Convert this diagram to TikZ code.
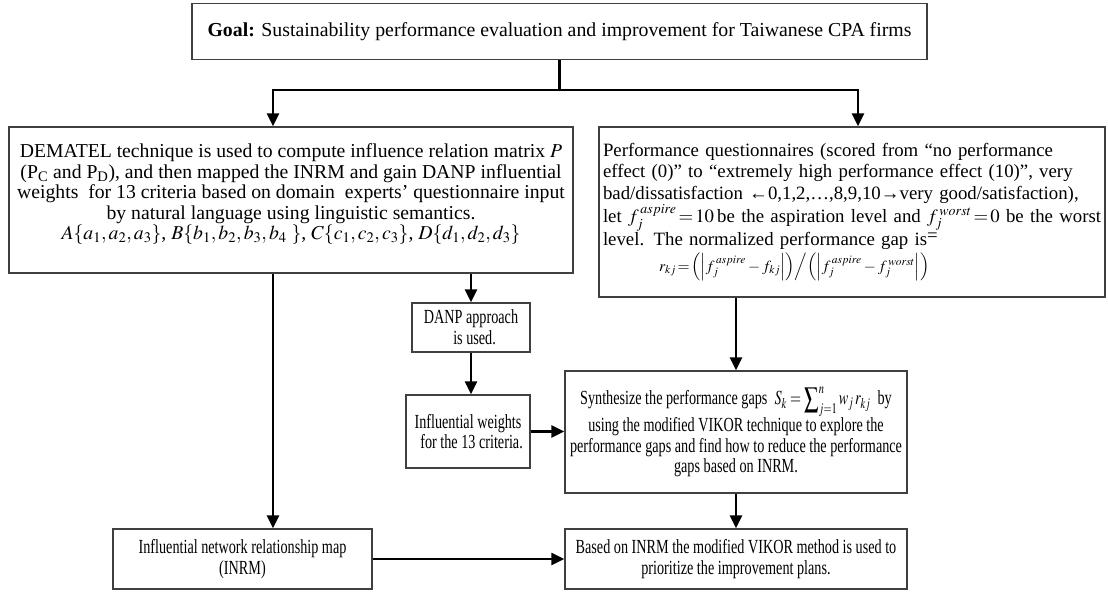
\documentclass[tikz,border=0pt]{standalone}
\usepackage{mathptmx}
\usepackage{fontspec}
\setmainfont{Liberation Serif}
\newfontfamily\condfont[FakeStretch=0.71]{Liberation Serif}
\usetikzlibrary{arrows.meta}
\newcommand{\cmath}[1]{\scalebox{0.71}[1]{$#1$}}
\tikzset{
  box/.style={draw=black!75, line width=1.3pt, inner sep=0pt, align=center},
  upper/.style={font=\fontsize{19.7}{20.5}\selectfont},
  perffont/.style={font=\fontsize{18.8}{21.5}\selectfont},
  lower/.style={font=\condfont\fontsize{20}{20.8}\selectfont},
  arr/.style={line width=2.4pt, -{Triangle[width=12pt,length=13pt]}},
  plain/.style={line width=2.4pt}
}
\begin{document}
\begin{tikzpicture}[x=1pt,y=-1pt]
\useasboundingbox (0,0) rectangle (1108,592);
\node[box, font=\fontsize{19.8}{22}\selectfont, minimum width=735pt, minimum height=56pt] (goal) at (559.5,31.5)
  {\textbf{Goal:} Sustainability performance evaluation and improvement for Taiwanese CPA firms};
\node[box, upper, minimum width=564pt, minimum height=146pt] (dem) at (291,200)
  {DEMATEL technique is used to compute influence relation matrix $P$\\
   (P\textsubscript{C} and P\textsubscript{D}), and then mapped the INRM and gain DANP influential\\
   weights\ \ for 13 criteria based on domain\ \ experts’ questionnaire input\\
   by natural language using linguistic semantics.\\
   $A\{a_1,a_2,a_3\}$, $B\{b_1,b_2,b_3,b_4\ \}$, $C\{c_1,c_2,c_3\}$, $D\{d_1,d_2,d_3\}$\\[-4pt]};
\node[box, perffont, minimum width=506pt, minimum height=170pt, text width=498pt, align=left] (perf) at (852,212)
  {\mbox{Performance questionnaires (scored from “no performance}\\
   \mbox{effect (0)” to “extremely high performance effect (10)”, very}\\
   \mbox{bad/dissatisfaction ←0,1,2,…,8,9,10→very good/satisfaction),}\\
   \mbox{let $f_j^{\,aspire}\!=\!10$\,be the aspiration level and $f_j^{\,worst}\!=\!0$ be the worst}\\
   \mbox{level. The normalized performance gap is\raisebox{4pt}{=}}\\[3pt]
   \mbox{\hspace*{56pt}\fontsize{15.5}{18}\selectfont$r_{kj}\!=\!\Bigl(\Bigl|f_j^{\,aspire}-f_{kj}\Bigr|\Bigr)\Big/\Bigl(\Bigl|f_j^{\,aspire}-f_j^{\,worst}\Bigr|\Bigr)$}\\[6pt]};
\node[box, lower, minimum width=118pt, minimum height=49pt] (danp) at (471,327.5)
  {DANP approach\\\ \ is used.};
\node[box, lower, minimum width=124pt, minimum height=73pt] (wts) at (468,431.5)
  {Influential weights\\\ \ for the 13 criteria.};
\node[box, lower, minimum width=342pt, minimum height=122pt] (syn) at (736,432)
  {Synthesize the performance gaps\ \ \cmath{\displaystyle S_k=\sum\nolimits_{j=1}^{n} w_j\,r_{kj}}\ \ by\\
   using the modified VIKOR technique to explore the\\
   performance gaps and find how to reduce the performance\\
   gaps based on INRM.};
\node[box, lower, minimum width=259pt, minimum height=60pt] (inrm) at (242.5,559)
  {Influential network relationship map\\(INRM)};
\node[box, lower, minimum width=342pt, minimum height=60pt] (vik) at (736,559)
  {Based on INRM the modified VIKOR method is used to\\prioritize the improvement plans.};
% helper coordinates
\coordinate (split) at (559.5,90);
\coordinate (ax) at (273,0);
\coordinate (bx) at (858,0);
% connectors
\draw[plain] (goal.south) -- (split);
\draw[arr] (split) -| (ax |- dem.north);
\draw[arr] (split) -| (bx |- perf.north);
\draw[arr] (ax |- dem.south) -- (ax |- inrm.north);
\draw[arr] (dem.south -| danp.north) -- (danp.north);
\draw[arr] (danp.south) -- (danp.south |- wts.north);
\draw[arr] (wts.east) -- (wts.east -| syn.west);
\draw[arr] (syn.north |- perf.south) -- (syn.north);
\draw[arr] (syn.south) -- (vik.north);
\draw[arr] (inrm.east) -- (vik.west);
\end{tikzpicture}
\end{document}
